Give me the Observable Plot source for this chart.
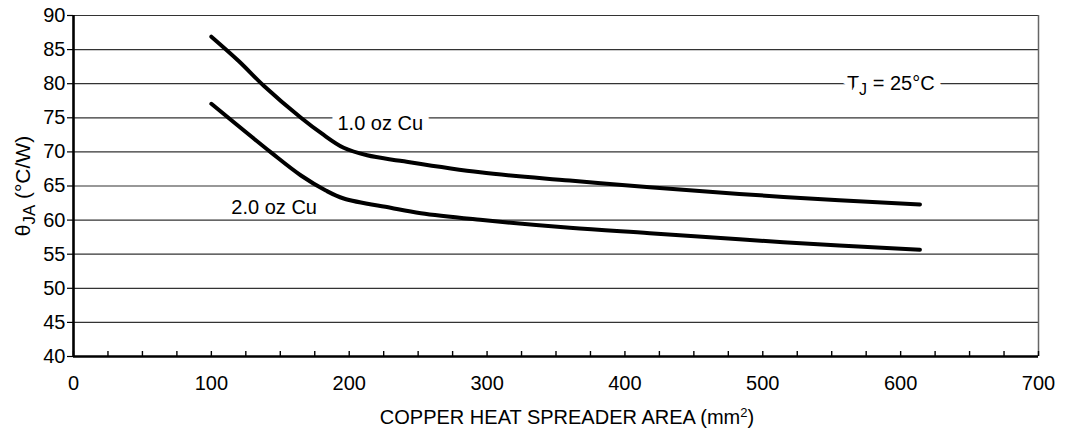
<!DOCTYPE html>
<html>
<head>
<meta charset="utf-8">
<script src="https://cdn.jsdelivr.net/npm/d3@7"></script>
<script src="https://cdn.jsdelivr.net/npm/@observablehq/plot@0.6"></script>
<style>
  html, body { margin: 0; padding: 0; background: #fff; }
  #chart svg { display: block; }
</style>
</head>
<body>
<div id="chart"></div>
<script>
// ---- data ----
const oz1X = [100, 120, 138, 165, 180, 196, 213, 237, 295, 360, 418, 515, 614];
const oz1Y = [86.9, 83.3, 79.7, 75.0, 72.7, 70.6, 69.5, 68.7, 67.0, 65.8, 64.8, 63.4, 62.3];
const oz2X = [100, 143, 165, 183, 196, 230, 252, 295, 360, 418, 515, 614];
const oz2Y = [77.05, 69.96, 66.54, 64.34, 63.17, 61.8, 61.0, 60.04, 58.87, 58.08, 56.76, 55.65];
const xTicks = [0, 100, 200, 300, 400, 500, 600, 700];
const xMinorTicks = d3.range(0, 701, 25);
const yTicks = [40, 45, 50, 55, 60, 65, 70, 75, 80, 85, 90];
const curveLabels = [
  {text: "1.0 oz Cu", x: 191.5, y: 74.1, halo: true},
  {text: "2.0 oz Cu", x: 114.5, y: 61.9, halo: false}
];
const tjLabel = [{text: "TJ = 25°C", x: 561, y: 80}];
const xTitle = "COPPER HEAT SPREADER AREA (mm2)";
const yTitle = "θJA (°C/W)";

const rows = [
  ...oz1X.map((x, i) => ({series: "1.0 oz Cu", x, y: oz1Y[i]})),
  ...oz2X.map((x, i) => ({series: "2.0 oz Cu", x, y: oz2Y[i]}))
];

const font = "'Liberation Sans', Arial, Helvetica, sans-serif";

const plot = Plot.plot({
  width: 1089,
  height: 435,
  marginLeft: 73,
  marginRight: 51,
  marginTop: 15,
  marginBottom: 79,
  style: {fontFamily: font, fontSize: "20px", color: "#000", background: "#fff"},
  x: {domain: [0, 700]},
  y: {domain: [40, 90]},
  marks: [
    Plot.ruleY(yTicks, {stroke: "#333", strokeWidth: 1.2}),
    Plot.ruleX([700], {stroke: "#666", strokeWidth: 1.5}),
    Plot.axisX({ticks: xMinorTicks, tickSize: -5, text: null, label: null, stroke: "#000", strokeWidth: 1.4}),
    Plot.axisX({ticks: xTicks, tickSize: 0, tickPadding: 19, tickFormat: d => String(d),
      label: xTitle, labelAnchor: "center", labelOffset: 67, labelArrow: "none", fontSize: 20}),
    Plot.axisY({ticks: yTicks, tickSize: 6, tickPadding: 2, tickFormat: d => String(d),
      label: yTitle, labelAnchor: "center", labelOffset: 58, labelArrow: "none", fontSize: 20, strokeWidth: 1.2}),
    Plot.ruleX([0], {stroke: "#000", strokeWidth: 2.6}),
    Plot.ruleY([40], {stroke: "#000", strokeWidth: 2.6}),
    Plot.line(rows, {x: "x", y: "y", z: "series", stroke: "#000", strokeWidth: 4,
      curve: "catmull-rom", strokeLinecap: "round", strokeLinejoin: "round"}),
    Plot.text(curveLabels.filter(d => d.halo), {x: "x", y: "y", text: "text", textAnchor: "start",
      fill: "#000", stroke: "#fff", strokeWidth: 14, paintOrder: "stroke", fontSize: 20}),
    Plot.text(curveLabels.filter(d => !d.halo), {x: "x", y: "y", text: "text", textAnchor: "start",
      fill: "#000", fontSize: 20}),
    Plot.text(tjLabel, {x: "x", y: "y", text: "text", textAnchor: "start",
      fill: "#000", stroke: "#fff", strokeWidth: 14, paintOrder: "stroke", fontSize: 20})
  ]
});

document.getElementById("chart").appendChild(plot);

// ---- sub/superscripts ----
const svg = d3.select(plot);
function rebuild(sel, parts) {
  sel.each(function () {
    const t = d3.select(this);
    t.selectAll("*").remove();
    t.text(null);
    for (const p of parts) {
      const ts = t.append("tspan").text(p.text);
      if (p.dy) ts.attr("dy", p.dy);
      if (p.size) ts.attr("font-size", p.size);
    }
  });
}
svg.selectAll("text").filter(function () { return this.textContent === yTitle; })
  .attr("font-size", 21)
  .call(s => rebuild(s, [{text: "θ"}, {text: "JA", dy: "0.3em", size: "0.8em"}, {text: " (°C/W)", dy: "-0.24em"}]));
svg.selectAll("text").filter(function () { return this.textContent === xTitle; })
  .attr("dx", 11)
  .call(s => rebuild(s, [{text: "COPPER HEAT SPREADER AREA (mm"}, {text: "2", dy: "-0.5em", size: "0.65em"}, {text: ")", dy: "0.35em"}]));
svg.selectAll("text").filter(function () { return this.textContent === "TJ = 25°C"; })
  .call(s => rebuild(s, [{text: "T"}, {text: "J", dy: "0.3em", size: "0.8em"}, {text: " = 25°C", dy: "-0.24em"}]));
</script>
</body>
</html>
